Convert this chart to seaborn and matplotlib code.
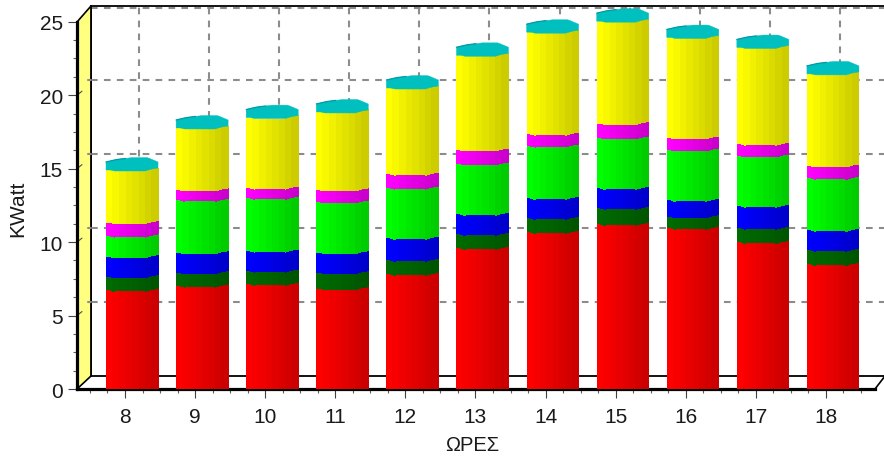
import numpy as np
import pandas as pd
import matplotlib
matplotlib.use('Agg')
import matplotlib.pyplot as plt
from matplotlib.collections import PolyCollection
from matplotlib.lines import Line2D
from matplotlib.patches import Polygon
from matplotlib.ticker import MultipleLocator
import seaborn as sns

hours = [8, 9, 10, 11, 12, 13, 14, 15, 16, 17, 18]
red = [6.72, 7.02, 7.13, 6.84, 7.81, 9.58, 10.67, 11.22, 10.95, 9.99, 8.49]
dark_green = [0.94, 0.91, 0.91, 1.09, 0.96, 0.96, 0.96, 1.09, 0.79, 0.96, 0.96]
blue = [1.36, 1.36, 1.36, 1.36, 1.50, 1.36, 1.36, 1.36, 1.11, 1.50, 1.36]
green = [1.40, 3.56, 3.59, 3.45, 3.42, 3.43, 3.56, 3.43, 3.43, 3.42, 3.54]
magenta = [0.92, 0.71, 0.70, 0.82, 0.94, 0.95, 0.80, 0.98, 0.82, 0.80, 0.84]
yellow = [3.58, 4.22, 4.80, 5.31, 5.87, 6.45, 6.95, 6.97, 6.84, 6.59, 6.27]

series = [
    (red, (1, 0, 0)),
    (dark_green, (0, 0.42, 0)),
    (blue, (0, 0, 1)),
    (green, (0, 1, 0)),
    (magenta, (1, 0, 1)),
    (yellow, (1, 1, 0)),
]

W, H = 884, 464
PX_X = 70.1    # pixels per hour
PX_Y = 14.69   # pixels per kW
SHIFT_X = 7    # half depth of the fake 3d box
SHIFT_Y = 5.5

sns.set_theme(style='white')
plt.rcParams['font.family'] = ['Liberation Sans', 'DejaVu Sans']
plt.rcParams['text.color'] = '#1a1a1a'
plt.rcParams['axes.labelcolor'] = '#1a1a1a'
plt.rcParams['xtick.color'] = '#1a1a1a'
plt.rcParams['ytick.color'] = '#1a1a1a'


def px_box(left, top, right, bottom):
    return [left / W, 1 - bottom / H, (right - left) / W, (bottom - top) / H]


def arc(frac, upper=False):
    # edge of the cylinder's ellipse, pixels away from its centre (+ is down)
    if upper:
        return np.interp(frac, [0, 0.2, 0.5, 0.8, 1], [-2.3, -4.7, -6.7, -6.7, -2.3])
    return np.interp(frac, [0, 0.1, 0.15, 0.75, 0.88, 1], [5.7, 5.7, 6.7, 6.7, 4.7, 3.7])


def shade(rgb, frac):
    step = np.floor(frac * 8) / 7
    return tuple(c * (1 - 0.2 * step) for c in rgb)


def cylinder(ax, bar, rgb, is_base):
    x0 = bar.get_x() + SHIFT_X / PX_X
    w = bar.get_width()
    lo = bar.get_y() + SHIFT_Y / PX_Y
    hi = lo + bar.get_height()
    edges = np.linspace(0, 1, 25)
    polys, colors = [], []
    for a, b in zip(edges[:-1], edges[1:]):
        xa, xb = x0 + a * w, x0 + b * w
        top_a, top_b = hi - arc(a) / PX_Y, hi - arc(b) / PX_Y
        if is_base:
            bot_a, bot_b = 0, 0
        else:
            bot_a, bot_b = lo - arc(a) / PX_Y, lo - arc(b) / PX_Y
        polys.append([(xa, bot_a), (xb, bot_b), (xb, top_b), (xa, top_a)])
        colors.append(shade(rgb, (a + b) / 2))
    ax.add_collection(PolyCollection(polys, facecolors=colors, edgecolors='none',
                                     antialiaseds=False, zorder=3, clip_on=False))
    bar.set_visible(False)


def add_cap(ax, bar):
    x0 = bar.get_x() + SHIFT_X / PX_X
    w = bar.get_width()
    hi = bar.get_y() + bar.get_height() + SHIFT_Y / PX_Y
    frac = np.linspace(0, 1, 25)
    up = np.column_stack([x0 + frac * w, hi - arc(frac, upper=True) / PX_Y])
    low = np.column_stack([x0 + frac * w, hi - arc(frac) / PX_Y])
    ax.add_patch(Polygon(np.vstack([up, low[::-1]]), facecolor='#00bfbf',
                         edgecolor='#00bfbf', lw=0.3, zorder=4, clip_on=False))
    n = 10
    ax.plot(up[:n, 0], up[:n, 1], color='#009aa6', lw=0.9, zorder=4, clip_on=False)


fig = plt.figure(figsize=(W / 100, H / 100), dpi=100)

# back wall of the box, has the dashed grid
back = fig.add_axes(px_box(91, 7, 889, 377), facecolor='white', zorder=0)
back.set_xlim(7.315, 18.7)
back.set_ylim(0, 25)
back.set_xticks(hours)
back.set_yticks([5, 10, 15, 20])
back.tick_params(left=False, bottom=False, labelleft=False, labelbottom=False)
back.grid(True, color='#8c8c8c', lw=1.5, linestyle=(0, (3.2, 3.0)))
back.axhline(24.87, color='#8c8c8c', lw=1.5, linestyle=(0, (3.2, 3.0)), zorder=1)
for side in ['right']:
    back.spines[side].set_visible(False)
for side in ['left', 'top', 'bottom']:
    back.spines[side].set_color('black')
    back.spines[side].set_linewidth(1.3)

# front plane, carries the axes and the bars
ax = fig.add_axes(px_box(77, 22.7, 875, 390), facecolor='none', zorder=1)

bottoms = np.zeros(len(hours))
for k, (vals, rgb) in enumerate(series):
    df = pd.DataFrame({'hour': hours, 'kw': vals})
    sns.barplot(data=df, x='hour', y='kw', native_scale=True, width=0.742,
                errorbar=None, color=rgb, bottom=bottoms, ax=ax)
    for bar in ax.containers[-1]:
        cylinder(ax, bar, rgb, k == 0)
        if k == len(series) - 1:
            add_cap(ax, bar)
    bottoms = bottoms + np.array(vals)

ax.set_xlim(7.315, 18.7)
ax.set_ylim(0, 25)
ax.set_xticks(hours)
ax.set_yticks([0, 5, 10, 15, 20, 25])
ax.xaxis.set_minor_locator(MultipleLocator(0.25))
ax.yaxis.set_minor_locator(MultipleLocator(1.25))
ax.tick_params(axis='both', which='major', length=6.2, width=0.8, color='#404040',
               labelsize=15, direction='out', left=True, bottom=True)
ax.tick_params(axis='both', which='minor', length=3.2, width=0.8, color='#606060',
               direction='out', left=True, bottom=True)
ax.tick_params(axis='x', which='major', pad=6.5)
ax.tick_params(axis='y', which='major', pad=4)
ax.set_xlabel('ΩΡΕΣ', fontsize=14.5)
ax.set_ylabel('KWatt', fontsize=15)
ax.xaxis.set_label_coords((472 - 77) / 798, -(446 - 390) / 367.3, transform=ax.transAxes)
ax.xaxis.label.set_verticalalignment('center')
ax.yaxis.set_label_coords(-(77 - 18) / 798, (390 - 209) / 367.3, transform=ax.transAxes)
ax.yaxis.label.set_verticalalignment('center')
for side in ['top', 'right']:
    ax.spines[side].set_visible(False)
for side in ['left', 'bottom']:
    ax.spines[side].set_color('black')
    ax.spines[side].set_linewidth(2.3)
ax.set_axisbelow(True)


def fpts(pts):
    return [(x / W, 1 - y / H) for x, y in pts]


# side wall and the slanted edges of the box
fig.add_artist(Polygon(fpts([(78, 23), (91, 8), (91, 376), (78, 389)]), closed=True,
                       facecolor='#ffff80', edgecolor='none',
                       transform=fig.transFigure, zorder=0.5))
for pts, lw in [([(77, 23), (91, 7)], 1.2), ([(77, 390), (91, 377)], 1.2),
                ([(875, 390), (885, 377)], 1.2), ([(91, 7), (91, 377)], 1.3)]:
    (xs, ys) = zip(*fpts(pts))
    fig.add_artist(Line2D(xs, ys, color='black', lw=lw, transform=fig.transFigure, zorder=0.6))
for v in [5, 10, 15, 20]:
    yf, yb = 390 - v * PX_Y, 377 - v * 14.8
    (xs, ys) = zip(*fpts([(77, yf), (82, yf - 4)]))
    fig.add_artist(Line2D(xs, ys, color='#505050', lw=0.8, transform=fig.transFigure, zorder=0.7))
    (xs, ys) = zip(*fpts([(88, yb), (91, yb)]))
    fig.add_artist(Line2D(xs, ys, color='#8c8c8c', lw=1.5, transform=fig.transFigure, zorder=0.7))

fig.savefig('out.png', dpi=100)
